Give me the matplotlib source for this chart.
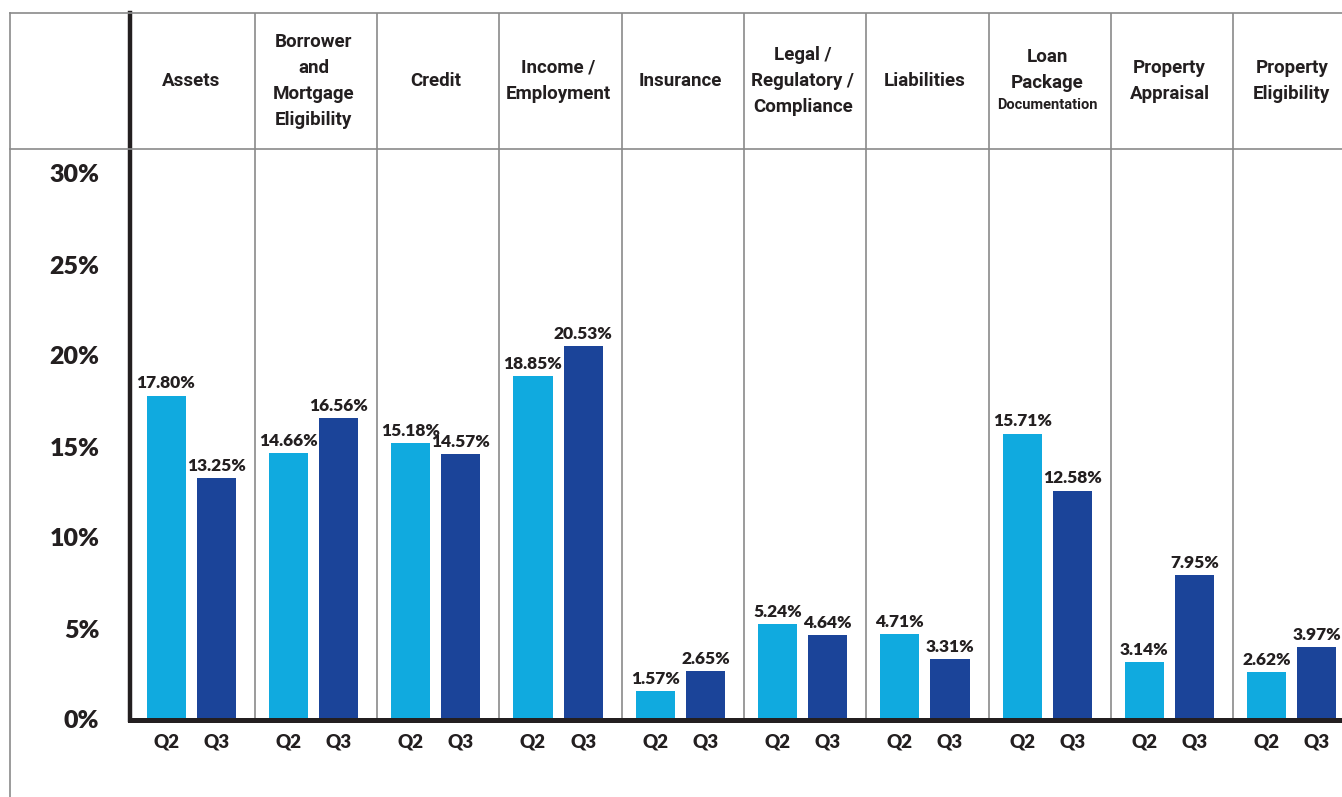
import numpy as np
import matplotlib
matplotlib.use("Agg")
import matplotlib.pyplot as plt
from matplotlib.lines import Line2D

categories = ["Assets", "Borrower\nand\nMortgage\nEligibility", "Credit", "Income /\nEmployment",
              "Insurance", "Legal /\nRegulatory /\nCompliance", "Liabilities", "Loan\nPackage",
              "Property\nAppraisal", "Property\nEligibility"]
subtitles = ["", "", "", "", "", "", "", "Documentation", "", ""]
q2 = [17.80, 14.66, 15.18, 18.85, 1.57, 5.24, 4.71, 15.71, 3.14, 2.62]
q3 = [13.25, 16.56, 14.57, 20.53, 2.65, 4.64, 3.31, 12.58, 7.95, 3.97]
series_labels = ["Q2", "Q3"]
yticks = [0, 5, 10, 15, 20, 25, 30]

C_Q2 = "#10AADF"
C_Q3 = "#1B4499"
DARK = "#231F20"
GRID = "#8A8A8A"

W, H = 1342, 797
fig = plt.figure(figsize=(W / 100, H / 100), dpi=100)

def fx(px):
    return px / W

def fy(py):
    return (H - py) / H

ax_left, ax_bottom, ax_top = 130, 719.5, 13
ax = fig.add_axes([fx(ax_left), fy(ax_bottom), 1 - fx(ax_left), fy(ax_top) - fy(ax_bottom)])

n = len(categories)
x = np.arange(n)
bw = 0.32
off = 0.205
ytop = (ax_bottom - ax_top) / 18.2
header_line = (ax_bottom - 149) / 18.2
ax.set_xlim(-0.5, 9.41)
ax.set_ylim(0, ytop)

for i in range(n - 1):
    ax.axvline(i + 0.52, color=GRID, lw=1.2, zorder=1)

b1 = ax.bar(x - off, q2, width=bw, color=C_Q2, zorder=2)
b2 = ax.bar(x + off, q3, width=bw, color=C_Q3, zorder=2)

lab_font = dict(family="Lato", fontweight="heavy", fontsize=12.5, color=DARK)
for bars, vals in ((b1, q2), (b2, q3)):
    for r, v in zip(bars, vals):
        ax.annotate(f"{v:.2f}%", (r.get_x() + r.get_width() / 2, v), xytext=(0, 3),
                    textcoords="offset points", ha="center", va="bottom", **lab_font)

# header
hmid = (ytop + header_line) / 2
for i, (c, s) in enumerate(zip(categories, subtitles)):
    if s:
        ax.annotate(c, (i, hmid), xytext=(0, 8), textcoords="offset points", ha="center",
                    va="center", family="Roboto", fontweight="bold", fontsize=13.5,
                    color=DARK, linespacing=1.58, annotation_clip=False)
        ax.annotate(s, (i, hmid), xytext=(0, -17), textcoords="offset points", ha="center",
                    va="center", family="Roboto", fontweight="bold", fontsize=10.5,
                    color=DARK, annotation_clip=False)
    else:
        ax.text(i, hmid, c, ha="center", va="center", family="Roboto", fontweight="bold",
                fontsize=13.5, color=DARK, linespacing=1.58)

# x ticks Q2/Q3
xt = np.concatenate([x - off, x + off])
xl = [series_labels[0]] * n + [series_labels[1]] * n
ax.set_xticks(xt)
ax.set_xticklabels(xl)
ax.tick_params(axis="x", length=0, pad=10)
for t in ax.get_xticklabels():
    t.set_fontfamily("Lato"); t.set_fontweight("heavy"); t.set_fontsize(13.5); t.set_color(DARK)

ax.set_yticks(yticks)
ax.set_yticklabels([f"{v}%" for v in yticks])
ax.tick_params(axis="y", length=0, pad=22)
for t in ax.get_yticklabels():
    t.set_fontfamily("Lato"); t.set_fontweight("heavy"); t.set_fontsize(18); t.set_color(DARK)

for s in ("top", "right"):
    ax.spines[s].set_visible(False)
ax.spines["left"].set_linewidth(3.2)
ax.spines["left"].set_color(DARK)
ax.spines["bottom"].set_linewidth(3.6)
ax.spines["bottom"].set_color(DARK)
ax.spines["bottom"].set_zorder(3)

# frame lines in figure
fig.add_artist(Line2D([fx(10), 1], [fy(13), fy(13)], color=GRID, lw=1.2))
fig.add_artist(Line2D([fx(10), 1], [fy(149), fy(149)], color=GRID, lw=1.2))
fig.add_artist(Line2D([fx(10), fx(10)], [0, fy(13)], color=GRID, lw=1.2))

fig.savefig("out.png", dpi=100)
